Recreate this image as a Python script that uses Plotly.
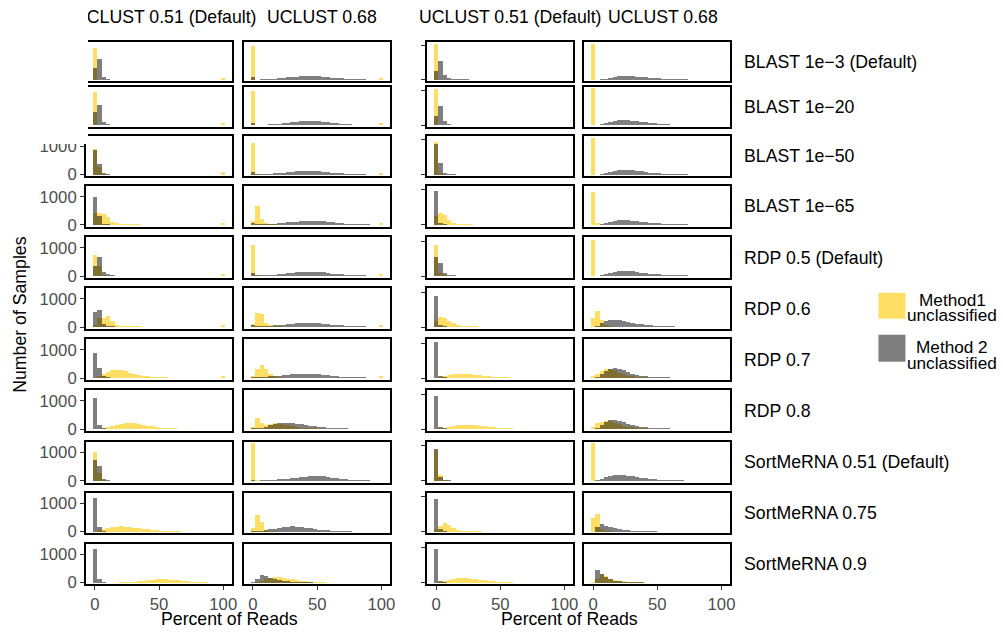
import plotly.graph_objects as go

# ---------------- data ----------------
BIN_CENTERS = [0, 3.448, 6.897, 10.345, 13.793, 17.241, 20.69, 24.138, 27.586, 31.034,
               34.483, 37.931, 41.379, 44.828, 48.276, 51.724, 55.172, 58.621, 62.069, 65.517,
               68.966, 72.414, 75.862, 79.31, 82.759, 86.207, 89.655, 93.103, 96.552, 100]
BIN_WIDTH = 3.448

ROW_LABELS = ["BLAST 1e\u22123 (Default)", "BLAST 1e\u221220", "BLAST 1e\u221250", "BLAST 1e\u221265",
              "RDP 0.5 (Default)", "RDP 0.6", "RDP 0.7", "RDP 0.8",
              "SortMeRNA 0.51 (Default)", "SortMeRNA 0.75", "SortMeRNA 0.9"]
COL_LABELS = ["UCLUST 0.51 (Default)", "UCLUST 0.68"]
SERIES_LINES = [["Method1", "unclassified"], ["Method 2", "unclassified"]]
X_TICKS = [0, 50, 100]
Y_TICKS_LEFT = [0, 1000]
Y_TICKLABELS_LEFT = ["0", "1000"]
Y_TICKS_RIGHT = [0, 1240]

# Left block, UCLUST 0.51 -- Method1 (yellow) counts per bin, one list per row
LEFT_U051_M1 = [
    [1150, 0, 0, 0, 0, 0, 0, 0, 0, 0, 0, 0, 0, 0, 0, 0, 0, 0, 0, 0, 0, 0, 0, 0, 0, 0, 0, 0, 0, 80],
    [1200, 0, 0, 0, 0, 0, 0, 0, 0, 0, 0, 0, 0, 0, 0, 0, 0, 0, 0, 0, 0, 0, 0, 0, 0, 0, 0, 0, 0, 80],
    [920, 270, 20, 0, 0, 0, 0, 0, 0, 0, 0, 0, 0, 0, 0, 0, 0, 0, 0, 0, 0, 0, 0, 0, 0, 0, 0, 0, 0, 90],
    [400, 410, 370, 260, 110, 60, 40, 30, 20, 15, 10, 8, 5, 0, 0, 0, 0, 0, 0, 0, 0, 0, 0, 0, 0, 0, 0, 0, 0, 70],
    [740, 330, 30, 0, 0, 0, 0, 0, 0, 0, 0, 0, 0, 0, 0, 0, 0, 0, 0, 0, 0, 0, 0, 0, 0, 0, 0, 0, 0, 70],
    [50, 300, 320, 390, 190, 80, 40, 30, 20, 15, 10, 6, 0, 0, 0, 0, 0, 0, 0, 0, 0, 0, 0, 0, 0, 0, 0, 0, 0, 70],
    [0, 60, 120, 200, 260, 280, 270, 230, 180, 130, 100, 70, 50, 35, 25, 18, 12, 8, 5, 0, 0, 0, 0, 0, 0, 0, 0, 0, 0, 60],
    [0, 0, 20, 60, 100, 140, 170, 190, 200, 190, 170, 140, 110, 85, 60, 45, 30, 20, 12, 8, 5],
    [1000, 270, 30],
    [0, 60, 110, 140, 165, 180, 190, 185, 170, 150, 130, 110, 90, 75, 60, 45, 35, 25, 18, 12, 8, 5],
    [0, 0, 0, 0, 0, 0, 10, 20, 30, 45, 60, 80, 100, 115, 125, 130, 125, 115, 100, 85, 70, 55, 40, 30, 20, 12, 8, 5],
]
# Left block, UCLUST 0.51 -- Method 2 (grey)
LEFT_U051_M2 = [
    [420, 740, 100, 30, 10],
    [470, 740, 110, 30, 10],
    [870, 380, 60, 15],
    [970, 320, 40, 15],
    [330, 670, 150, 50, 15],
    [540, 600, 100, 30, 10],
    [880, 330, 50, 15],
    [1100, 150, 20],
    [730, 520, 60, 15],
    [1180, 180, 20],
    [1190, 150, 20],
]
# Left block, UCLUST 0.68 -- Method1
LEFT_U068_M1 = [
    [1220, 0, 0, 0, 0, 0, 0, 0, 0, 0, 0, 0, 0, 0, 0, 0, 0, 0, 0, 0, 0, 0, 0, 0, 0, 0, 0, 0, 0, 80],
    [1230, 0, 0, 0, 0, 0, 0, 0, 0, 0, 0, 0, 0, 0, 0, 0, 0, 0, 0, 0, 0, 0, 0, 0, 0, 0, 0, 0, 0, 80],
    [1120, 30, 0, 0, 0, 0, 0, 0, 0, 0, 0, 0, 0, 0, 0, 0, 0, 0, 0, 0, 0, 0, 0, 0, 0, 0, 0, 0, 0, 80],
    [150, 670, 200, 50, 25, 10, 0, 0, 0, 0, 0, 0, 0, 0, 0, 0, 0, 0, 0, 0, 0, 0, 0, 0, 0, 0, 0, 0, 0, 80],
    [1100, 40, 0, 0, 0, 0, 0, 0, 0, 0, 0, 0, 0, 0, 0, 0, 0, 0, 0, 0, 0, 0, 0, 0, 0, 0, 0, 0, 0, 70],
    [100, 500, 460, 150, 60, 30, 15, 0, 0, 0, 0, 0, 0, 0, 0, 0, 0, 0, 0, 0, 0, 0, 0, 0, 0, 0, 0, 0, 0, 70],
    [80, 300, 450, 300, 120, 60, 30, 0, 0, 0, 0, 0, 0, 0, 0, 0, 0, 0, 0, 0, 0, 0, 0, 0, 0, 0, 0, 0, 0, 60],
    [60, 380, 200, 150, 170, 190, 180, 150, 120, 90, 60, 40, 25, 15, 10],
    [1320, 20],
    [150, 600, 330, 80, 30, 15],
    [0, 40, 80, 130, 170, 190, 190, 175, 150, 125, 100, 80, 60, 45, 30, 20, 12, 8, 5],
]
# Left block, UCLUST 0.68 -- Method 2
LEFT_U068_M2 = [
    [90, 10, 15, 25, 35, 45, 60, 75, 90, 105, 120, 130, 138, 140, 135, 125, 110, 95, 80, 65, 50, 40, 30, 24, 18, 14, 10, 8, 6, 4],
    [80, 10, 15, 22, 32, 45, 58, 72, 88, 105, 122, 138, 150, 165, 160, 145, 125, 105, 88, 70, 55, 42, 32, 25, 18, 13, 10, 7, 5, 4],
    [90, 12, 18, 25, 35, 48, 62, 78, 95, 110, 122, 132, 140, 138, 130, 118, 104, 88, 72, 58, 46, 36, 28, 22, 16, 12, 9, 7, 5, 3],
    [80, 10, 15, 22, 32, 44, 56, 70, 85, 100, 115, 128, 138, 145, 138, 128, 132, 110, 90, 72, 56, 44, 34, 26, 20, 15, 11, 8, 6, 4],
    [90, 10, 15, 22, 30, 42, 55, 70, 86, 102, 118, 132, 145, 150, 145, 132, 116, 98, 80, 64, 50, 38, 29, 22, 16, 12, 9, 6, 5, 3],
    [70, 12, 18, 26, 36, 48, 62, 78, 95, 112, 128, 140, 148, 150, 142, 128, 112, 94, 76, 60, 46, 35, 26, 20, 15, 11, 8, 6, 4, 3],
    [40, 15, 25, 35, 48, 62, 78, 95, 110, 125, 138, 146, 150, 146, 136, 122, 106, 88, 72, 57, 44, 34, 26, 20, 15, 11, 8, 6, 4, 3],
    [30, 20, 40, 80, 120, 160, 190, 210, 215, 205, 185, 160, 135, 110, 88, 68, 52, 40, 30, 22, 16, 12, 9, 6, 5, 4, 3, 2, 2, 1],
    [10, 8, 12, 18, 26, 36, 48, 62, 78, 95, 112, 130, 148, 162, 170, 165, 152, 134, 114, 94, 75, 58, 44, 33, 24, 17, 12, 8, 6, 4],
    [20, 15, 30, 55, 85, 115, 145, 170, 185, 190, 182, 165, 145, 122, 100, 80, 62, 48, 36, 27, 20, 15, 11, 8, 6, 5, 4, 3, 2, 2],
    [30, 130, 270, 250, 180, 130, 95, 70, 52, 40, 30, 22, 16, 12, 9, 7, 5, 4, 3, 2, 2, 1, 1, 1],
]
# Right block, UCLUST 0.51 -- Method1
RIGHT_U051_M1 = [
    [1300],
    [1300],
    [1150, 80],
    [300, 400, 330, 160, 80, 45, 30, 20, 12, 8, 5],
    [1100, 100, 10],
    [200, 350, 300, 200, 120, 70, 45, 30, 20, 12, 8, 5],
    [0, 30, 60, 95, 125, 145, 150, 145, 130, 110, 90, 70, 52, 38, 27, 18, 12, 8, 5],
    [0, 20, 45, 80, 110, 135, 150, 150, 140, 122, 102, 82, 64, 48, 35, 25, 17, 11, 7, 4],
    [1100, 210, 30],
    [100, 210, 310, 250, 130, 70, 45, 30, 22, 16, 12, 9, 7, 5, 4, 3],
    [0, 40, 80, 115, 140, 160, 170, 165, 150, 130, 108, 86, 66, 50, 37, 27, 19, 13, 8, 5],
]
# Right block, UCLUST 0.51 -- Method 2
RIGHT_U051_M2 = [
    [320, 700, 180, 60, 30, 20, 15, 12, 10, 8, 6, 5, 4],
    [350, 700, 150, 50, 25, 18, 14, 11, 9, 7, 5, 4, 3],
    [1100, 400, 80, 25, 10],
    [1180, 60, 15],
    [650, 450, 100, 30, 10],
    [1100, 80, 15],
    [1250, 50, 10],
    [1150, 80, 10],
    [1120, 140, 30, 10],
    [1170, 100, 15],
    [1190, 60, 10],
]
# Right block, UCLUST 0.68 -- Method1
RIGHT_U068_M1 = [
    [1300],
    [1330],
    [1300],
    [1150, 50],
    [1250],
    [300, 550, 250, 80, 30],
    [50, 150, 250, 320, 320, 260, 180, 120, 80, 50, 30, 20, 12, 8, 5],
    [60, 200, 250, 280, 260, 210, 160, 110, 75, 50, 32, 20, 12, 8],
    [1340],
    [480, 640, 100, 30, 10],
    [30, 150, 300, 250, 150, 100, 70, 50, 35, 25, 18, 12, 8, 5],
]
# Right block, UCLUST 0.68 -- Method 2
RIGHT_U068_M2 = [
    [0, 5, 20, 45, 75, 105, 128, 140, 138, 128, 115, 100, 86, 72, 60, 50, 41, 34, 28, 22, 17, 13, 10, 8, 6, 4, 3, 2, 2, 1],
    [0, 8, 30, 65, 105, 145, 175, 190, 185, 170, 150, 128, 106, 86, 70, 56, 44, 35, 27, 21, 16, 12, 9, 7, 5, 4, 3, 2, 1, 1],
    [0, 6, 25, 55, 90, 125, 155, 170, 168, 155, 138, 118, 98, 80, 65, 52, 41, 32, 25, 19, 15, 11, 8, 6, 5, 4, 3, 2, 1, 1],
    [0, 8, 28, 60, 95, 130, 158, 170, 165, 150, 132, 112, 93, 76, 62, 50, 40, 31, 24, 18, 14, 10, 8, 6, 4, 3, 2, 2, 1, 1],
    [0, 7, 26, 58, 92, 128, 156, 170, 166, 152, 134, 114, 95, 78, 63, 51, 40, 32, 25, 19, 14, 11, 8, 6, 5, 3, 2, 2, 1, 1],
    [0, 40, 120, 200, 240, 250, 235, 205, 170, 138, 110, 86, 66, 50, 38, 28, 21, 15, 11, 8, 6, 4, 3, 2, 2, 1, 1, 1],
    [0, 30, 120, 230, 300, 330, 310, 260, 200, 150, 110, 80, 58, 42, 30, 22, 16, 11, 8, 6, 4, 3, 2, 1, 1],
    [0, 40, 140, 250, 310, 320, 290, 240, 185, 140, 102, 75, 54, 39, 28, 20, 14, 10, 7, 5, 3, 2, 1, 1],
    [0, 15, 60, 120, 170, 200, 210, 200, 180, 155, 130, 108, 88, 70, 55, 43, 33, 25, 19, 14, 10, 7, 5, 4, 3, 2, 1, 1],
    [0, 160, 280, 210, 160, 120, 90, 70, 55, 43, 34, 27, 21, 16, 12, 9, 7, 5, 4, 3, 2, 1, 1],
    [0, 440, 320, 200, 130, 80, 55, 38, 27, 19, 14, 10, 7, 5, 4, 3, 2, 1, 1],
]

# ---------------- layout constants ----------------
W, H = 1003, 633               # figure size in CSS px
# positions below are measured on the reference pixel grid; the photographed page comes out
# slightly shrunk, so the grid used for paper fractions is a little smaller than the figure
GX, GY = 997.5, 625.5
X_PANELS = [(86, 232), (244, 390), (427, 573), (584, 730)]
ROW_TOPS = [42, 87, 135.7, 186.3, 237.5, 288.6, 339.7, 390.8, 442.5, 493.2, 544.3]
ROW_HEIGHTS = [39.5, 40, 40.5, 40.5, 40.5, 40.5, 40.5, 40.5, 40.5, 40.5, 40.5]
X_RANGE = [-6.9, 106.9]
Y_RANGE = [-60, 1371]
YELLOW = "rgba(255,200,0,0.6)"
GREY = "rgba(0,0,0,0.5)"
FONT = "Liberation Sans, Arial, Helvetica, sans-serif"
TICK_FONT = dict(family=FONT, size=16.7, color="#4d4d4d")
TEXT_FONT = dict(family=FONT, size=17.7, color="#000000")


def fx(px):
    return px / GX


def fy(py):
    return 1 - py / GY


PANELS = [
    (LEFT_U051_M1, LEFT_U051_M2),
    (LEFT_U068_M1, LEFT_U068_M2),
    (RIGHT_U051_M1, RIGHT_U051_M2),
    (RIGHT_U068_M1, RIGHT_U068_M2),
]


def full(v):
    return list(v) + [0] * (len(BIN_CENTERS) - len(v))


fig = go.Figure()
layout = {}
n_rows = len(ROW_LABELS)
for r in range(n_rows):
    top = ROW_TOPS[r]
    rh = ROW_HEIGHTS[r]
    for p, (m1, m2) in enumerate(PANELS):
        idx = r * 4 + p + 1
        xa = "x" if idx == 1 else f"x{idx}"
        ya = "y" if idx == 1 else f"y{idx}"
        for vals, col in ((m1[r], YELLOW), (m2[r], GREY)):
            fig.add_trace(go.Bar(x=BIN_CENTERS, y=full(vals), width=BIN_WIDTH,
                                 marker=dict(color=col, line=dict(width=0)),
                                 xaxis=xa, yaxis=ya, showlegend=False, hoverinfo="skip"))
        x0, x1 = X_PANELS[p]
        bottom_row = (r == n_rows - 1)
        layout["xaxis" if idx == 1 else f"xaxis{idx}"] = dict(
            domain=[fx(x0), fx(x1)], anchor=ya, range=X_RANGE,
            showline=True, mirror=True, linecolor="black", linewidth=2,
            showgrid=False, zeroline=False, fixedrange=True,
            tickmode="array", tickvals=X_TICKS,
            ticks="outside" if bottom_row else "", ticklen=4, tickwidth=1, tickcolor="#333333",
            showticklabels=bottom_row, tickfont=TICK_FONT)
        yd = dict(domain=[fy(top + rh), fy(top)], anchor=xa, range=Y_RANGE,
                  showline=True, mirror=True, linecolor="black", linewidth=2,
                  showgrid=False, zeroline=False, fixedrange=True, tickfont=TICK_FONT,
                  ticklen=4, tickwidth=1, tickcolor="#333333")
        if p == 0:
            yd.update(tickmode="array", tickvals=Y_TICKS_LEFT, ticktext=Y_TICKLABELS_LEFT,
                      ticks="outside", showticklabels=True)
        elif p == 2:
            yd.update(tickmode="array", tickvals=Y_TICKS_RIGHT, ticks="outside",
                      showticklabels=False)
        else:
            yd.update(ticks="", showticklabels=False)
        layout["yaxis" if idx == 1 else f"yaxis{idx}"] = yd

annotations = []
# column titles
for x, txt in ((165.5, COL_LABELS[0]), (322, COL_LABELS[1]), (510.5, COL_LABELS[0]), (662.5, COL_LABELS[1])):
    annotations.append(dict(x=fx(x), y=fy(17), xref="paper", yref="paper", text=txt,
                            showarrow=False, xanchor="center", yanchor="middle", font=TEXT_FONT))
# row labels
for r, lab in enumerate(ROW_LABELS):
    yc = ROW_TOPS[r] + ROW_HEIGHTS[r] / 2
    annotations.append(dict(x=fx(742), y=fy(yc), xref="paper", yref="paper", text=lab,
                            showarrow=False, xanchor="left", yanchor="middle", font=TEXT_FONT))
# axis titles
annotations.append(dict(x=fx(20), y=fy(315), xref="paper", yref="paper", text="Number of Samples",
                        textangle=-90, showarrow=False, xanchor="center", yanchor="middle", font=TEXT_FONT))
for xc in (229, 569):
    annotations.append(dict(x=fx(xc), y=fy(619.5), xref="paper", yref="paper", text="Percent of Reads",
                            showarrow=False, xanchor="center", yanchor="middle", font=TEXT_FONT))
# legend labels (two lines each, tight spacing)
for (y1, y2), lines in zip(((300, 315), (347, 363)), SERIES_LINES):
    for yc, txt in ((y1, lines[0]), (y2, lines[1])):
        annotations.append(dict(x=fx(952), y=fy(yc), xref="paper", yref="paper", text=txt,
                                showarrow=False, xanchor="center", yanchor="middle",
                                font=dict(family=FONT, size=17.2, color="#000000")))
# white cover reproducing the cropped top-left corner of the left block
annotations.append(dict(x=0, y=1, xref="paper", yref="paper", text=" ", showarrow=False,
                        xanchor="left", yanchor="top", width=88, height=144, bgcolor="white",
                        borderpad=0, borderwidth=0))

shapes = [
    dict(type="rect", xref="paper", yref="paper", x0=fx(878), x1=fx(905), y0=fy(319), y1=fy(293),
         fillcolor=YELLOW, line=dict(width=0)),
    dict(type="rect", xref="paper", yref="paper", x0=fx(878), x1=fx(905), y0=fy(362), y1=fy(335),
         fillcolor=GREY, line=dict(width=0)),
]

fig.update_layout(**layout)
fig.update_layout(width=W, height=H, margin=dict(l=0, r=0, t=0, b=0),
                  paper_bgcolor="white", plot_bgcolor="white", barmode="overlay", bargap=0,
                  showlegend=False, annotations=annotations, shapes=shapes,
                  font=dict(family=FONT))
PAGE_CSS_JS = ("var s=document.createElement('style');"
               "s.textContent='html,body{margin:0!important;padding:0!important;overflow:hidden!important;}';"
               "document.head.appendChild(s);")
fig.write_html("out.html", config={"displayModeBar": False}, post_script=PAGE_CSS_JS)
